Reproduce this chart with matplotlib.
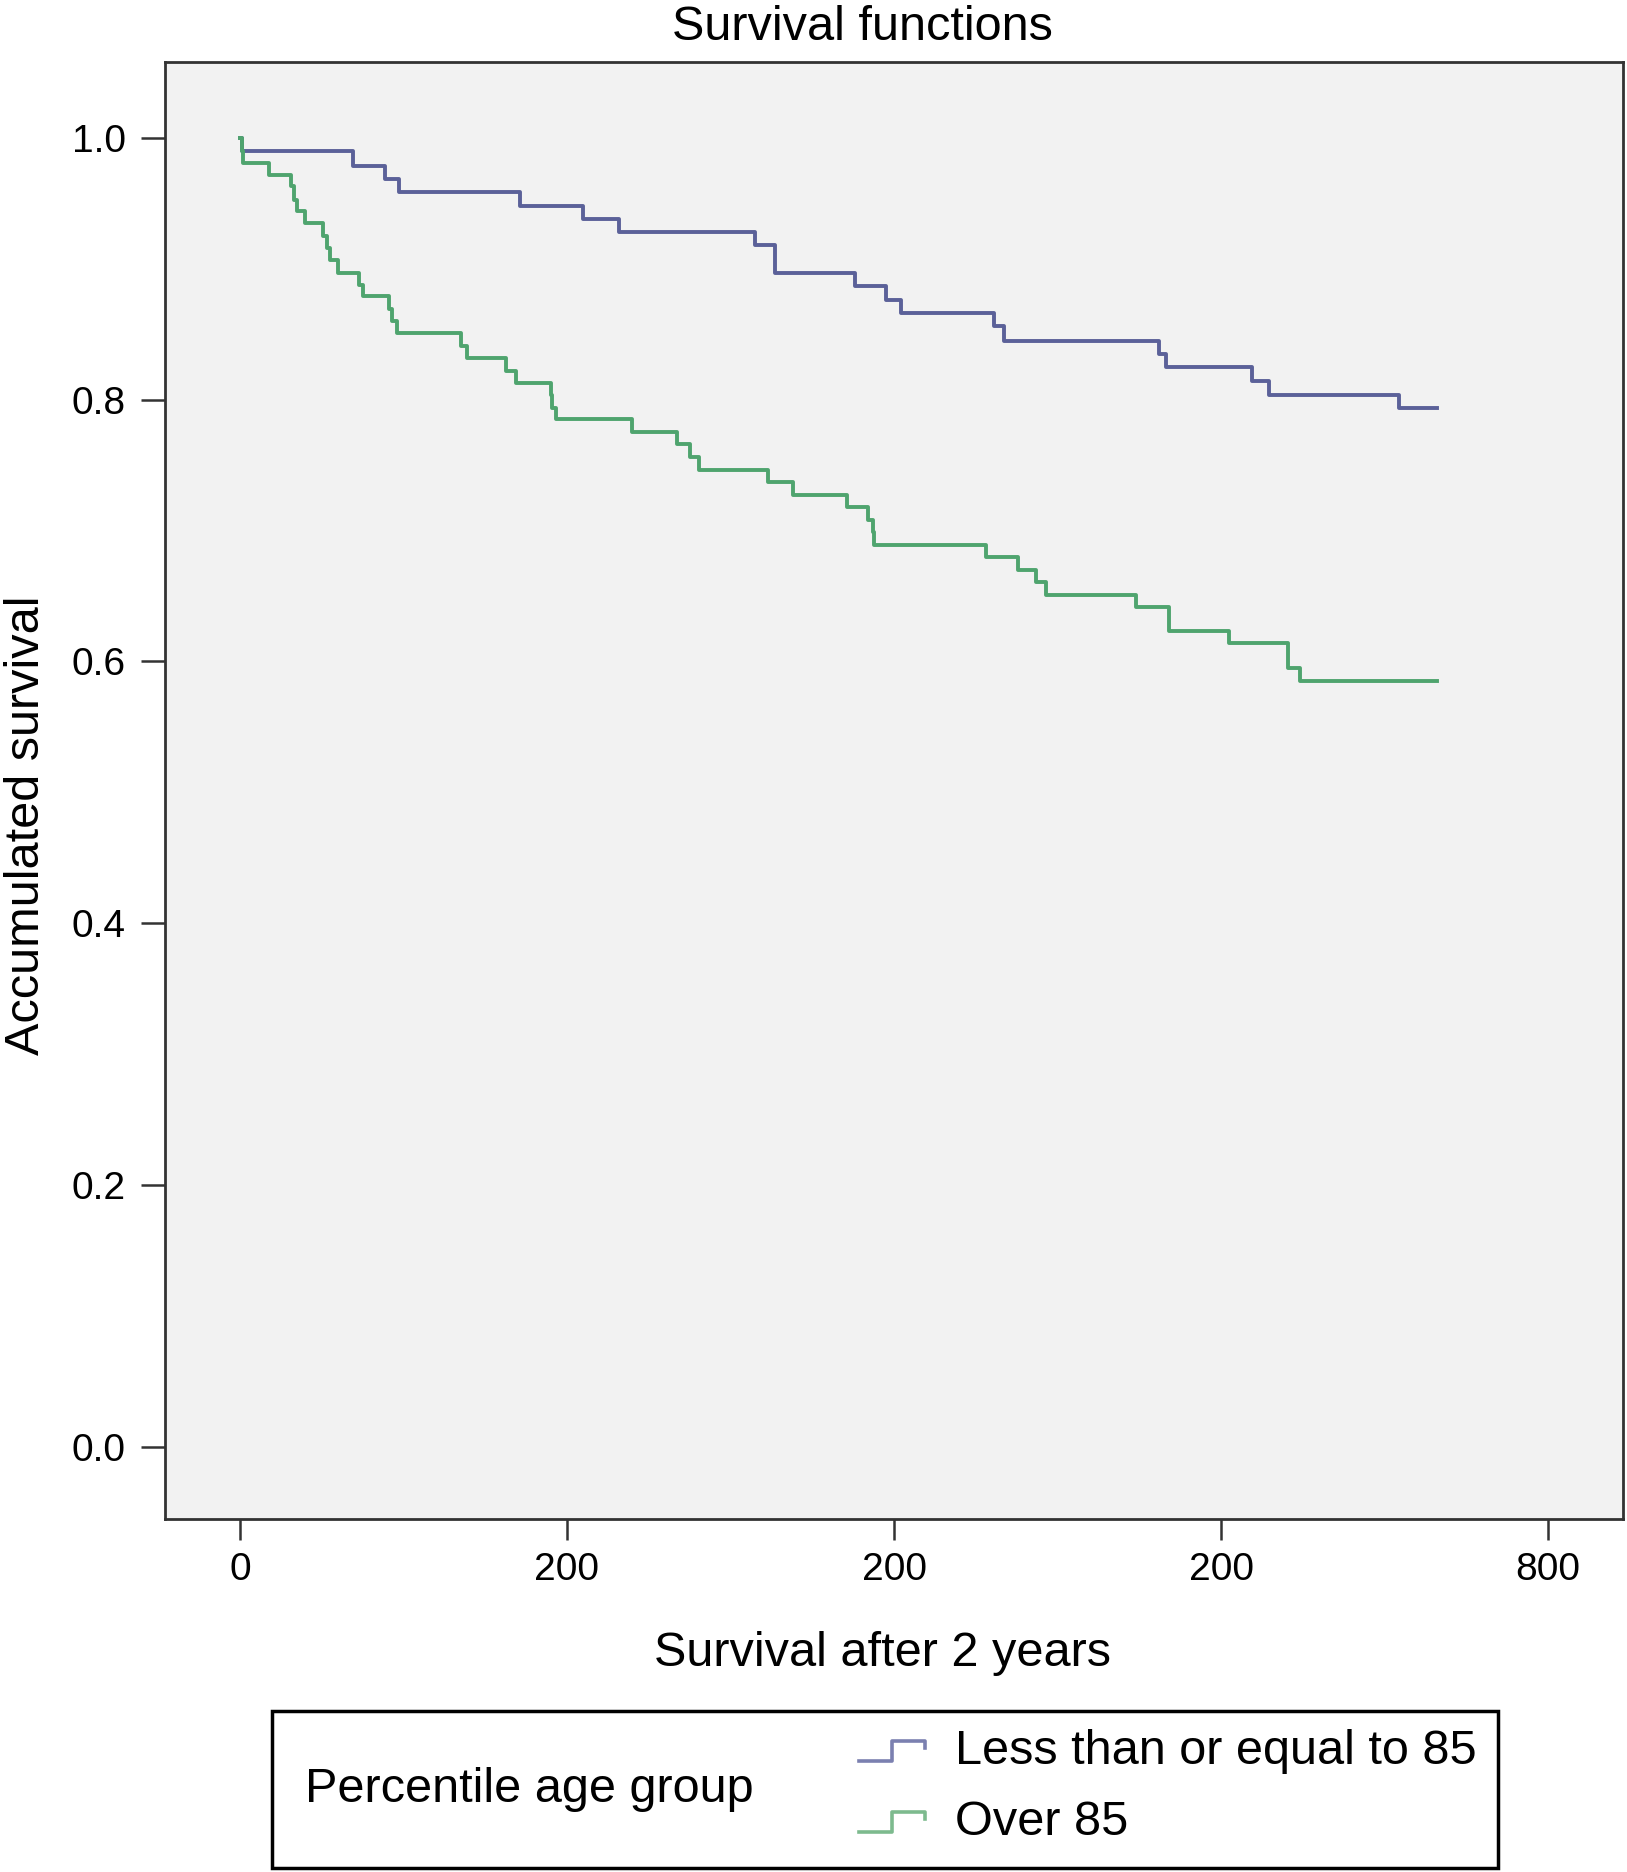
import matplotlib
matplotlib.use('Agg')
import matplotlib.pyplot as plt
from matplotlib.patches import Rectangle

plt.rcParams['font.family'] = ['Liberation Sans', 'DejaVu Sans']

# Kaplan-Meier estimates (days, survival)
t_le85 = [0, 1, 69, 89, 97, 171, 210, 232, 315, 327, 376, 395, 404, 461, 467,
          562, 566, 619, 629, 709, 732]
s_le85 = [1.0, 0.990, 0.979, 0.969, 0.959, 0.948, 0.938, 0.928, 0.918, 0.897,
          0.887, 0.876, 0.866, 0.856, 0.845, 0.835, 0.825, 0.814, 0.804, 0.794, 0.794]

t_gt85 = [0, 1, 2, 18, 31, 33, 35, 40, 51, 53, 55, 60, 73, 75, 91, 93, 96, 135,
          139, 163, 169, 190, 191, 193, 240, 267, 275, 281, 323, 338, 371, 384,
          387, 388, 456, 476, 487, 493, 548, 568, 605, 641, 648, 732]
s_gt85 = [1.0, 0.990, 0.981, 0.972, 0.963, 0.953, 0.944, 0.935, 0.925, 0.916,
          0.907, 0.897, 0.888, 0.879, 0.869, 0.860, 0.851, 0.841, 0.832, 0.822,
          0.813, 0.804, 0.794, 0.785, 0.775, 0.766, 0.756, 0.746, 0.737, 0.727,
          0.718, 0.708, 0.699, 0.689, 0.680, 0.670, 0.661, 0.651, 0.642, 0.623,
          0.614, 0.595, 0.585, 0.585]

xtick_pos = [0, 200, 400, 600, 800]
xtick_labels = ['0', '200', '200', '200', '800']
ytick_pos = [0.0, 0.2, 0.4, 0.6, 0.8, 1.0]
ytick_labels = ['0.0', '0.2', '0.4', '0.6', '0.8', '1.0']

group_title = 'Percentile age group'
group_names = ['Less than or equal to 85', 'Over 85']
colors = ['#5b6199', '#4fa46e']

fig = plt.figure(figsize=(16.27, 18.72), dpi=100)
ax = fig.add_axes([0.1012, 0.1888, 0.8966, 0.7780])
ax.set_facecolor('#f2f2f2')

ax.step(t_le85, s_le85, where='post', color=colors[0], lw=2.8)
ax.step(t_gt85, s_gt85, where='post', color=colors[1], lw=2.8)

ax.set_xlim(-46, 846)
ax.set_ylim(-0.055, 1.058)
ax.set_xticks(xtick_pos)
ax.set_xticklabels(xtick_labels)
ax.set_yticks(ytick_pos)
ax.set_yticklabels(ytick_labels)
ax.tick_params(axis='x', length=15, width=1.8, pad=9, labelsize=28, color='#333333')
ax.tick_params(axis='y', length=17, width=1.8, pad=11, labelsize=28, color='#333333')
for sp in ax.spines.values():
    sp.set_color('#333333')
    sp.set_linewidth(2)

# titles and axis labels
fig.text(0.530, 0.9855, 'Survival functions', ha='center', va='center', fontsize=35)
fig.text(0.5427, 0.1165, 'Survival after 2 years', ha='center', va='center', fontsize=35)
fig.text(0.016, 0.559, 'Accumulated survival', ha='center', va='center',
         rotation=90, fontsize=35)

# legend box below the chart
lax = fig.add_axes([0.1672, 0.0021, 0.7535, 0.0839])
lax.set_xlim(0, 1)
lax.set_ylim(0, 1)
lax.set_xticks([])
lax.set_yticks([])
for sp in lax.spines.values():
    sp.set_visible(False)
lax.add_patch(Rectangle((0, 0), 1, 1, transform=lax.transAxes, fill=False,
                        edgecolor='black', lw=2.5, clip_on=False))
lax.text(0.027, 0.50, group_title, ha='left', va='center', fontsize=35)

icon_x = [0.479, 0.506, 0.506, 0.533, 0.533]
icon_colors = ['#7b80b0', '#7dba8e']
for i, (name, c) in enumerate(zip(group_names, icon_colors)):
    yc = 0.745 - i * 0.452
    lo, hi = yc - 0.065, yc + 0.065
    lax.plot(icon_x, [lo, lo, hi, hi, hi - 0.045], color=c, lw=2.6)
    lax.text(0.557, yc, name, ha='left', va='center', fontsize=35)

fig.savefig('out.png', dpi=100, facecolor='white')
